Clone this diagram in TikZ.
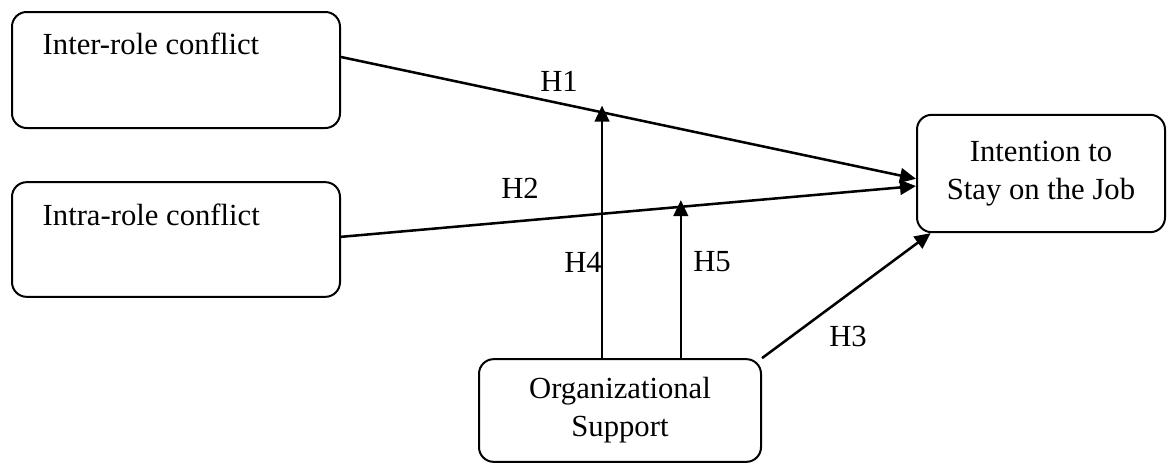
\documentclass[tikz,border=0pt]{standalone}
\usepackage{fontspec}
\setmainfont{Liberation Serif}
\usetikzlibrary{arrows.meta}

\begin{document}
\begin{tikzpicture}[x=0.75pt,y=-0.75pt,>={Triangle[length=12pt,width=11pt]},
  box/.style={draw,rounded corners=11pt,line width=1.5pt,inner sep=0pt},
  link/.style={->,line width=1.9pt},
  font=\fontsize{23}{28.5}\selectfont]

\useasboundingbox (0,0) rectangle (1168,464);

% The boxes
\node[box,minimum width=246pt,minimum height=87pt] (inter) at (176,70) {};
\node[box,minimum width=246pt,minimum height=86pt] (intra) at (176,239.5) {};
\node[box,minimum width=186pt,minimum height=88pt,align=center] (stay) at (1041,173.5) {Intention to\\Stay on the Job};
\node[box,minimum width=211.5pt,minimum height=77pt,align=center] (support) at (620,410.5) {Organizational\\Support};

\node[anchor=base west] (interlbl) at (38,55) {Inter-role conflict};
\node[anchor=base west] (intralbl) at (38,225) {Intra-role conflict};

% The direct paths
\draw[link] ([yshift=9.75pt]inter.east) -- coordinate[pos=0.454] (m1) ([yshift=-4pt]stay.west);
\draw[link] ([yshift=2pt]intra.east) -- coordinate[pos=0.591] (m2) ([yshift=-9.4pt]stay.west);
\draw[link] (support.north east) -- ([xshift=11pt]stay.south west);

% The moderating paths
\draw[link,shorten >=-5pt] (m1 |- support.north) -- (m1);
\draw[link,shorten >=-5pt] (m2 |- support.north) -- (m2);

% The hypotheses
\foreach \hyp/\px/\py in {H1/559/81,H2/520/188,H3/848/336,H4/583/262,H5/712/262}
{
	\node (\hyp) at (\px,\py) {\hyp};
}

\end{tikzpicture}
\end{document}
